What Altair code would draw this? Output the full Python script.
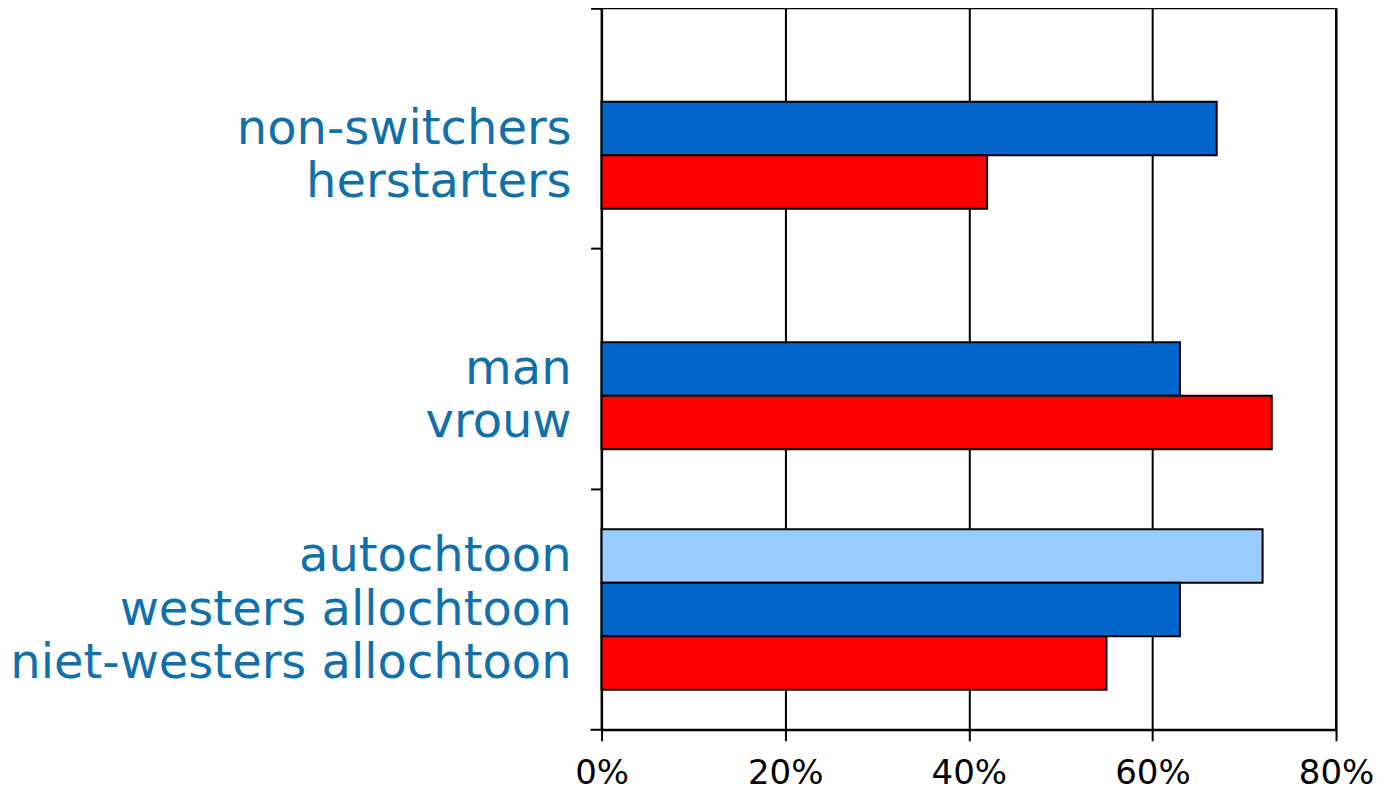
import altair as alt
import pandas as pd

# ---- data ----
group_order = ["switch", "gender", "origin"]
series_order = ["A", "B", "C"]
series_colors = ["#99CCFF", "#0066CC", "#FF0000"]

labels = ["non-switchers", "herstarters", "man", "vrouw",
          "autochtoon", "westers allochtoon", "niet-westers allochtoon"]
groups = ["switch", "switch", "gender", "gender", "origin", "origin", "origin"]
series = ["B", "C", "B", "C", "A", "B", "C"]
values = [0.67, 0.42, 0.63, 0.73, 0.72, 0.63, 0.55]
x_ticks = [0, 0.2, 0.4, 0.6, 0.8]

df = pd.DataFrame({"label": labels, "group": groups, "series": series, "value": values})

FONT = "DejaVu Sans"

y_enc = alt.Y(
    "group:N",
    sort=group_order,
    scale=alt.Scale(paddingInner=0, paddingOuter=0),
    axis=alt.Axis(title=None, labels=False, bandPosition=0, tickSize=11, tickWidth=2,
                  tickColor="black", domainColor="black", domainWidth=2, grid=False),
)
yoff_enc = alt.YOffset(
    "series:N",
    sort=series_order,
    scale=alt.Scale(domain=series_order, paddingInner=0, paddingOuter=0.75),
)

base = alt.Chart(df)

bars = base.mark_bar(stroke="black", strokeWidth=2).encode(
    y=y_enc,
    yOffset=yoff_enc,
    x=alt.X(
        "value:Q",
        scale=alt.Scale(domain=[0, 0.8], nice=False),
        axis=alt.Axis(title=None, format=".0%", values=x_ticks, tickSize=11, tickWidth=2,
                      tickColor="black", domainColor="black", domainWidth=2,
                      grid=True, gridColor="black", gridWidth=2, gridOpacity=1,
                      labelFont=FONT, labelFontSize=34, labelColor="black",
                      labelPadding=16, labelFlush=False),
    ),
    color=alt.Color("series:N", scale=alt.Scale(domain=series_order, range=series_colors), legend=None),
)

text = base.mark_text(align="right", baseline="middle", dx=-30, dy=1,
                      fontSize=48, font=FONT, color="#1170AA").encode(
    y=y_enc,
    yOffset=yoff_enc,
    x=alt.value(0),
    text="label:N",
)

tick = alt.Chart(pd.DataFrame({"k": [0]})).mark_rule(color="black", strokeWidth=2).encode(
    x=alt.value(-11), x2=alt.value(0), y=alt.value(722)
)

chart = alt.layer(bars, text, tick).properties(
    width=735,
    height=722,
    autosize=alt.AutoSizeParams(type="none"),
    padding={"left": 594, "top": 0, "right": 40, "bottom": 64},
).configure_view(stroke="black", strokeWidth=2)

chart.save("out.html", embed_options={"renderer": "svg", "actions": False})
